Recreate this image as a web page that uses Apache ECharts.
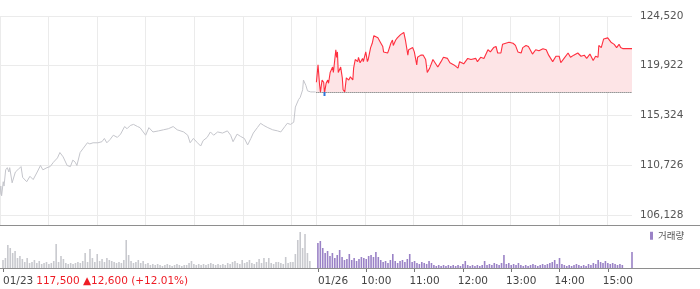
<!DOCTYPE html>
<html><head><meta charset="utf-8">
<script src="https://cdn.jsdelivr.net/npm/echarts@6/dist/echarts.min.js"></script>
<style>html,body{margin:0;padding:0;background:#fff}#c{width:700px;height:289px}</style>
</head><body><div id="c"></div>
<script>
// ---------- data ----------
const day1Label = '01/23';
const day2Label = '01/26';
const day1Summary = '117,500 ▲12,600 (+12.01%)';
const prevClose = 117500;
const priceTicks = [106128, 110726, 115324, 119922, 124520];
const hourLabels = ['10:00', '11:00', '12:00', '13:00', '14:00', '15:00'];
const volumeName = '거래량';

const day1Times = ['09:00','09:01','09:02','09:04','09:05','09:07','09:09','09:11','09:12','09:15',
'09:19','09:22','09:26','09:28','09:33','09:37','09:41','09:46','09:50','09:53',
'09:58','10:02','10:06','10:11','10:14','10:18','10:23','10:27','10:30','10:33',
'10:35','10:39','10:43','10:48','10:51','10:55','11:01','11:06','11:09','11:12',
'11:16','11:20','11:25','11:29','11:34','11:37','11:41','11:45','11:50','11:53',
'12:00','12:04','12:09','12:16','12:22','12:28','12:34','12:39','12:47','12:52',
'12:55','12:59','13:04','13:08','13:11','13:16','13:20','13:24','13:29','13:35',
'13:41','13:45','13:48','13:53','13:57','14:02','14:06','14:10','14:13','14:18',
'14:22','14:26','14:31','14:37','14:43','14:47','14:52','14:55','14:59','15:03',
'15:05','15:09','15:11','15:14','15:15','15:18','15:20','15:24','15:30'];
const day1Prices = [108000,108800,107900,109200,108800,110300,110500,110100,110500,109100,
110100,110300,110600,109600,109200,109700,109400,110100,110700,110300,
110500,110600,111000,111400,111900,111500,110700,110600,111200,111000,
110700,111900,112300,112800,112700,112800,112800,112900,113200,112800,
113100,113500,113300,113600,114300,114100,114400,114500,114300,114200,
113500,114200,113800,113900,114000,114100,114300,114000,113800,113500,
112800,113200,112800,112500,113000,113300,113800,113500,113800,113700,
113900,113500,112900,113600,113400,113200,112600,113200,113700,114200,
114600,114400,114200,114000,113900,113800,114300,114600,114500,114700,
116100,116800,117000,117700,118600,118100,117600,117500,117500];

const day2Times = ['09:00','09:02','09:04','09:05','09:07','09:09','09:10','09:12','09:14','09:15',
'09:17','09:20','09:21','09:24','09:25','09:26','09:27','09:30','09:32','09:33',
'09:35','09:37','09:40','09:42','09:45','09:46','09:48','09:51','09:52','09:54',
'09:57','09:58','10:01','10:03','10:04','10:07','10:09','10:11','10:16','10:19',
'10:22','10:23','10:28','10:29','10:32','10:34','10:35','10:38','10:40','10:44',
'10:48','10:50','10:53','10:54','10:59','11:01','11:04','11:05','11:09','11:12',
'11:15','11:17','11:20','11:24','11:25','11:30','11:34','11:37','11:42','11:45',
'11:50','11:55','11:57','12:02','12:07','12:11','12:17','12:19','12:23','12:27',
'12:32','12:35','12:39','12:42','12:44','12:48','12:50','12:54','12:58','13:03',
'13:06','13:09','13:13','13:15','13:19','13:22','13:27','13:31','13:35','13:40',
'13:44','13:47','13:52','13:56','14:00','14:02','14:06','14:11','14:14','14:18',
'14:23','14:27','14:31','14:34','14:38','14:42','14:45','14:48','14:49','14:52',
'14:55','15:00','15:04','15:08','15:11','15:14','15:16','15:19','15:30'];
const day2Prices = [118400,120000,118100,117500,118600,118400,117400,118300,118600,118300,
119300,119800,119300,121400,120700,121200,119300,119800,118800,117700,
117500,118800,118600,118900,118600,119700,120500,120300,120700,120200,
120600,120300,121200,120300,120500,121600,122000,122700,122500,122100,
121700,121200,121100,121300,122000,122300,121800,122300,122500,122800,
123000,122300,120900,121400,121600,121200,120000,120700,120900,120900,
120500,119300,119700,120500,120600,119800,120300,120700,120600,120200,
120000,119700,120300,120100,120600,120500,120600,120300,120700,120600,
121400,121200,121600,121700,121100,121100,121900,122000,122100,122000,
121800,121200,121100,121600,121800,121700,121000,121400,121300,121500,
121400,120900,120300,120800,120800,120200,120600,121100,120700,120900,
121100,120800,120900,120600,121000,120400,120800,120700,121800,121600,
122400,122500,122100,121900,121600,121900,121600,121500,121500];

// volume per 3-minute bucket from 09:00 to 15:30 (relative units)
const volBucketMinutes = 3;
const day1Volume = [8,10,23,20,15,17,10,12,9,6,
10,5,6,8,5,7,4,5,6,4,
5,7,24,6,12,9,5,4,5,4,
5,6,5,7,15,6,19,10,6,14,
7,9,6,10,8,7,6,5,6,5,
8,28,13,7,5,6,8,5,7,4,
5,3,4,3,4,3,2,3,4,3,
2,3,4,3,2,3,3,5,7,4,
3,4,3,4,3,4,5,4,3,4,
3,4,3,5,4,6,7,5,4,8,
5,6,8,5,4,6,9,5,10,6,
10,5,4,6,6,5,4,11,5,6,
6,14,28,36,20,34,15,7,0,0,
0];
const day2Volume = [25,27,20,15,17,12,15,10,13,18,
11,8,9,14,8,10,7,9,11,10,
9,12,13,11,16,11,8,6,7,5,
8,14,7,5,7,8,6,9,14,6,
7,5,4,6,5,4,7,5,3,2,
3,2,3,2,3,2,3,2,3,2,
4,7,3,2,3,2,3,2,3,7,
3,4,3,5,4,3,5,13,4,5,
3,4,3,5,3,2,3,2,3,4,
3,2,3,4,3,4,5,6,8,4,
10,4,3,2,3,2,3,4,3,2,
3,2,4,3,5,4,8,6,5,7,
5,4,5,4,3,4,3,0,0,0,
16];

// ---------- build ----------
const SESSION = 391;             // minutes 09:00..15:30 inclusive
const toMin = t => { const [h, m] = t.split(':').map(Number); return (h - 9) * 60 + m; };
const d1 = day1Times.map((t, i) => [toMin(t), day1Prices[i]]);
const d2 = day2Times.map((t, i) => [SESSION + toMin(t), day2Prices[i]]);
const v1 = day1Volume.map((v, i) => [i * volBucketMinutes, v]);
const v2 = day2Volume.map((v, i) => [SESSION + i * volBucketMinutes, v]);
const hourMins = hourLabels.map(toMin);
const gridXs = [0].concat(hourMins, [SESSION], hourMins.map(m => SESSION + m));
const hourTicks = hourMins.map(m => SESSION + m);
const XMAX = SESSION + 390;
const FONT = 'DejaVu Sans';

const chart = echarts.init(document.getElementById('c'), null, { renderer: 'canvas' });
const xBase = { type: 'value', min: 0, max: XMAX, splitLine: { show: false } };
chart.setOption({
  animation: false,
  backgroundColor: '#fff',
  grid: [
    { left: 0, right: 68, top: 16, height: 209 },
    { left: 0, right: 68, top: 226, height: 42 }
  ],
  graphic: [
    { type: 'line', shape: { x1: 0, y1: 225.5, x2: 700, y2: 225.5 }, style: { stroke: '#8e8e8e', lineWidth: 1 }, silent: true, z: 10 },
    { type: 'line', shape: { x1: 0, y1: 268.5, x2: 700, y2: 268.5 }, style: { stroke: '#8e8e8e', lineWidth: 1 }, silent: true, z: 10 }
  ],
  legend: {
    data: [volumeName], left: 650, top: 231, padding: 0, icon: 'rect',
    itemWidth: 3, itemHeight: 8, selectedMode: false,
    textStyle: { fontSize: 9.5, color: '#555', fontFamily: 'Noto Sans CJK KR' }
  },
  xAxis: [
    Object.assign({}, xBase, {
      gridIndex: 0, axisLine: { show: false },
      axisTick: { show: false, customValues: gridXs },
      axisLabel: { show: false },
      splitLine: { show: true, lineStyle: { color: '#ebebeb', width: 1 } }
    }),
    Object.assign({}, xBase, {
      gridIndex: 1, position: 'bottom', axisLine: { show: false },
      axisTick: { show: true, customValues: [0, SESSION], length: 4, lineStyle: { color: '#777' } },
      axisLabel: {
        customValues: [0, SESSION], align: 'left', margin: 8,
        fontFamily: FONT, fontSize: 10.5, color: '#444',
        formatter: v => v === 0 ? '{d|' + day1Label + '}{r|' + day1Summary + '}' : '{d|' + day2Label + '}',
        rich: {
          d: { fontFamily: FONT, fontSize: 10.5, color: '#444' },
          r: { fontFamily: FONT, fontSize: 10.5, color: '#ee1c25', padding: [0, 0, 0, 3] }
        }
      }
    }),
    Object.assign({}, xBase, {
      gridIndex: 1, position: 'bottom', axisLine: { show: false },
      axisTick: { show: true, customValues: hourTicks, length: 4, lineStyle: { color: '#777' } },
      axisLabel: {
        customValues: hourTicks, align: 'center', margin: 8, padding: [0, 0, 0, 20],
        fontFamily: FONT, fontSize: 10.5, color: '#444',
        formatter: v => hourLabels[hourTicks.indexOf(v)]
      }
    })
  ],
  yAxis: [
    {
      gridIndex: 0, type: 'value', min: 105200, max: 124520, position: 'right',
      axisLine: { show: false },
      axisTick: { show: false, customValues: priceTicks },
      axisLabel: { customValues: priceTicks, margin: 8, fontFamily: FONT, fontSize: 10.5, color: '#555',
        formatter: v => v.toLocaleString('en-US') },
      splitLine: { show: true, lineStyle: { color: '#ebebeb', width: 1 } }
    },
    { gridIndex: 1, type: 'value', min: 0, max: 42, show: false, splitLine: { show: false } }
  ],
  series: [
    {
      name: day1Label, type: 'line', xAxisIndex: 0, yAxisIndex: 0, data: d1,
      showSymbol: false, silent: true, color: '#c4c5cb', lineStyle: { width: 1, color: '#c4c5cb' }
    },
    {
      name: day2Label, type: 'line', xAxisIndex: 0, yAxisIndex: 0, data: d2,
      showSymbol: false, silent: true, color: '#ff2f3f', lineStyle: { width: 1.1, color: '#ff2f3f' },
      areaStyle: { color: '#fde4e6', origin: prevClose, opacity: 1 },
      markLine: {
        silent: true, symbol: 'none', label: { show: false },
        lineStyle: { type: 'dotted', color: '#555', width: 1 },
        data: [[{ coord: [SESSION, prevClose] }, { coord: [XMAX, prevClose] }]]
      },
      markPoint: {
        silent: true, symbol: 'rect', symbolSize: [2, 4], symbolOffset: [0, 1],
        itemStyle: { color: '#2f74d8' }, label: { show: false },
        data: [{ type: 'min' }]
      }
    },
    {
      name: volumeName + ' ' + day1Label, type: 'bar', xAxisIndex: 1, yAxisIndex: 1, data: v1,
      barWidth: 1.6, barGap: '-100%', silent: true, itemStyle: { color: '#c8c9ce' }
    },
    {
      name: volumeName, type: 'bar', xAxisIndex: 1, yAxisIndex: 1, data: v2,
      barWidth: 1.6, barGap: '-100%', silent: true, itemStyle: { color: '#9a82c6' }
    }
  ]
});
</script>
</body></html>
